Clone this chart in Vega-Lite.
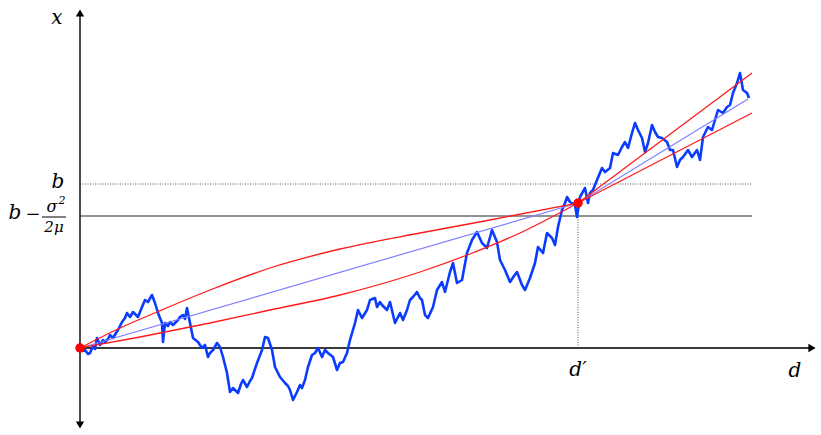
{
  "$schema": "https://vega.github.io/schema/vega-lite/v6.json",
  "autosize": "none",
  "width": 740,
  "height": 427,
  "padding": {"left": 80, "top": 5, "right": 1, "bottom": 3},
  "background": "white",
  "config": {"view": {"stroke": null}},
  "datasets": {
    "walk": [
      {"d":0,"v":0},{"d":3,"v":-3},{"d":5,"v":-2},{"d":8,"v":-6},{"d":10,"v":-5},{"d":13,"v":2},{"d":15,"v":-1},{"d":17,"v":10},{"d":20,"v":3},{"d":23,"v":8},{"d":25,"v":6},{"d":28,"v":9},{"d":30,"v":13},{"d":33,"v":10},{"d":36,"v":15},{"d":38,"v":18},{"d":42,"v":26},{"d":45,"v":30},{"d":47,"v":35},{"d":50,"v":31},{"d":53,"v":36},{"d":56,"v":33},{"d":58,"v":31},{"d":62,"v":41},{"d":65,"v":48},{"d":68,"v":46},{"d":72,"v":53},{"d":75,"v":45},{"d":78,"v":35},{"d":82,"v":25},{"d":83,"v":6},{"d":85,"v":25},{"d":88,"v":22},{"d":90,"v":26},{"d":93,"v":23},{"d":95,"v":25},{"d":98,"v":28},{"d":100,"v":31},{"d":103,"v":33},{"d":105,"v":29},{"d":107,"v":40},{"d":110,"v":25},{"d":113,"v":10},{"d":118,"v":6},{"d":122,"v":0},{"d":125,"v":3},{"d":128,"v":-9},{"d":130,"v":-5},{"d":133,"v":-2},{"d":137,"v":5},{"d":140,"v":1},{"d":143,"v":-9},{"d":147,"v":-25},{"d":150,"v":-44},{"d":153,"v":-40},{"d":155,"v":-42},{"d":158,"v":-45},{"d":161,"v":-36},{"d":163,"v":-32},{"d":167,"v":-39},{"d":170,"v":-33},{"d":172,"v":-30},{"d":177,"v":-15},{"d":182,"v":-2},{"d":185,"v":11},{"d":188,"v":10},{"d":192,"v":-2},{"d":195,"v":-19},{"d":200,"v":-29},{"d":205,"v":-35},{"d":208,"v":-38},{"d":210,"v":-42},{"d":213,"v":-52},{"d":217,"v":-44},{"d":220,"v":-37},{"d":222,"v":-40},{"d":225,"v":-32},{"d":228,"v":-19},{"d":232,"v":-7},{"d":235,"v":-5},{"d":238,"v":0},{"d":242,"v":-9},{"d":245,"v":-2},{"d":248,"v":-5},{"d":253,"v":-9},{"d":257,"v":-22},{"d":260,"v":-15},{"d":263,"v":-14},{"d":267,"v":-5},{"d":270,"v":8},{"d":275,"v":25},{"d":278,"v":38},{"d":282,"v":30},{"d":287,"v":38},{"d":290,"v":48},{"d":295,"v":50},{"d":297,"v":41},{"d":300,"v":46},{"d":302,"v":43},{"d":307,"v":38},{"d":310,"v":46},{"d":315,"v":25},{"d":320,"v":35},{"d":323,"v":28},{"d":327,"v":38},{"d":330,"v":48},{"d":333,"v":51},{"d":337,"v":56},{"d":340,"v":50},{"d":342,"v":48},{"d":345,"v":33},{"d":348,"v":30},{"d":353,"v":41},{"d":357,"v":58},{"d":362,"v":66},{"d":365,"v":56},{"d":370,"v":76},{"d":373,"v":85},{"d":377,"v":65},{"d":382,"v":68},{"d":387,"v":95},{"d":392,"v":108},{"d":397,"v":116},{"d":402,"v":105},{"d":407,"v":100},{"d":412,"v":118},{"d":417,"v":106},{"d":420,"v":88},{"d":425,"v":78},{"d":430,"v":66},{"d":434,"v":72},{"d":437,"v":76},{"d":442,"v":63},{"d":445,"v":58},{"d":450,"v":70},{"d":455,"v":85},{"d":458,"v":101},{"d":463,"v":95},{"d":467,"v":115},{"d":472,"v":110},{"d":475,"v":103},{"d":478,"v":121},{"d":482,"v":138},{"d":485,"v":145},{"d":487,"v":151},{"d":490,"v":146},{"d":495,"v":143},{"d":497,"v":131},{"d":500,"v":151},{"d":505,"v":160},{"d":508,"v":145},{"d":510,"v":155},{"d":513,"v":158},{"d":517,"v":168},{"d":522,"v":180},{"d":525,"v":176},{"d":530,"v":180},{"d":533,"v":195},{"d":538,"v":193},{"d":542,"v":201},{"d":545,"v":206},{"d":548,"v":200},{"d":552,"v":215},{"d":555,"v":225},{"d":558,"v":218},{"d":562,"v":210},{"d":565,"v":196},{"d":568,"v":205},{"d":572,"v":223},{"d":575,"v":216},{"d":578,"v":211},{"d":582,"v":210},{"d":587,"v":206},{"d":590,"v":198},{"d":593,"v":198},{"d":597,"v":181},{"d":600,"v":188},{"d":603,"v":191},{"d":608,"v":198},{"d":612,"v":191},{"d":617,"v":198},{"d":620,"v":188},{"d":623,"v":211},{"d":628,"v":221},{"d":632,"v":218},{"d":635,"v":228},{"d":638,"v":238},{"d":643,"v":235},{"d":647,"v":241},{"d":650,"v":243},{"d":653,"v":255},{"d":657,"v":265},{"d":660,"v":275},{"d":663,"v":258},{"d":667,"v":255},{"d":669,"v":250}
    ],
    "bline": [{"d":0,"v":0},{"d":498,"v":145},{"d":668,"v":249}],
    "redAcurve": [{"d":0,"v":0},{"d":40,"v":20},{"d":77,"v":36},{"d":130,"v":58},{"d":190,"v":80},{"d":260,"v":99},{"d":340,"v":115},{"d":410,"v":128},{"d":498,"v":145}],
    "redBcurve": [{"d":0,"v":0},{"d":60,"v":11},{"d":130,"v":25},{"d":190,"v":38},{"d":260,"v":53},{"d":340,"v":76},{"d":390,"v":94},{"d":440,"v":115},{"d":498,"v":145}],
    "redAline": [{"d":498,"v":145},{"d":672,"v":235}],
    "redBline": [{"d":498,"v":145},{"d":672,"v":275}],
    "dotted": [{"d":0,"v":164,"d2":672,"v2":164},{"d":498,"v":0,"d2":498,"v2":145}],
    "solid": [{"d":0,"v":132,"d2":672,"v2":132}],
    "vaxis": [{"d":0,"v":-78,"d2":0,"v2":336}],
    "haxis": [{"d":0,"v":0,"d2":733,"v2":0}],
    "frac": [{"d":-38,"v":131,"d2":-14,"v2":131}],
    "arrows": [{"d":0,"v":335,"s":"triangle-up"},{"d":0,"v":-77,"s":"triangle-down"},{"d":732,"v":0,"s":"triangle-right"}],
    "dots": [{"d":0,"v":0},{"d":498,"v":145}],
    "labels": [
      {"d":-23,"v":330,"t":"x","size":20},
      {"d":-22,"v":166,"t":"b","size":20},
      {"d":-65,"v":135,"t":"b","size":20},
      {"d":-47,"v":133,"t":"−","size":18},
      {"d":498,"v":-22,"t":"d′","size":20},
      {"d":715,"v":-23,"t":"d","size":20},
      {"d":-28,"v":141,"t":"σ","size":16},
      {"d":-26,"v":121,"t":"2μ","size":15},
      {"d":-18,"v":147,"t":"2","size":11}
    ]
  },
  "encoding": {
    "x": {"field": "d", "type": "quantitative", "scale": {"domain": [0, 740], "nice": false, "zero": false}, "axis": null},
    "y": {"field": "v", "type": "quantitative", "scale": {"domain": [-84, 343], "nice": false, "zero": false}, "axis": null}
  },
  "layer": [
    {"data": {"name": "dotted"}, "mark": {"type": "rule", "color": "#555555", "strokeWidth": 1, "strokeDash": [1, 1.5], "clip": false},
     "encoding": {"x2": {"field": "d2"}, "y2": {"field": "v2"}}},
    {"data": {"name": "solid"}, "mark": {"type": "rule", "color": "#6e6e6e", "strokeWidth": 1.6, "clip": false},
     "encoding": {"x2": {"field": "d2"}, "y2": {"field": "v2"}}},
    {"data": {"name": "haxis"}, "mark": {"type": "rule", "color": "#3a3a3a", "strokeWidth": 2, "clip": false},
     "encoding": {"x2": {"field": "d2"}, "y2": {"field": "v2"}}},
    {"data": {"name": "vaxis"}, "mark": {"type": "rule", "color": "#111111", "strokeWidth": 1.5, "clip": false},
     "encoding": {"x2": {"field": "d2"}, "y2": {"field": "v2"}}},
    {"data": {"name": "frac"}, "mark": {"type": "rule", "color": "#000000", "strokeWidth": 1, "clip": false},
     "encoding": {"x2": {"field": "d2"}, "y2": {"field": "v2"}}},
    {"data": {"name": "arrows"}, "mark": {"type": "point", "filled": true, "color": "#000000", "size": 70, "opacity": 1, "clip": false},
     "encoding": {"shape": {"field": "s", "type": "nominal", "scale": null}}},
    {"data": {"name": "walk"},
     "mark": {"type": "line", "color": "#0a3cff", "strokeWidth": 2.6, "strokeJoin": "round"}},
    {"data": {"name": "bline"}, "mark": {"type": "line", "color": "#7f7fff", "strokeWidth": 1.2}},
    {"data": {"name": "redAcurve"}, "mark": {"type": "line", "color": "#ff1a1a", "strokeWidth": 1.3, "interpolate": "monotone"}},
    {"data": {"name": "redBcurve"}, "mark": {"type": "line", "color": "#ff1a1a", "strokeWidth": 1.3, "interpolate": "monotone"}},
    {"data": {"name": "redAline"}, "mark": {"type": "line", "color": "#ff1a1a", "strokeWidth": 1.3}},
    {"data": {"name": "redBline"}, "mark": {"type": "line", "color": "#ff1a1a", "strokeWidth": 1.3}},
    {"data": {"name": "dots"}, "mark": {"type": "circle", "color": "#ff0000", "size": 90, "opacity": 1, "clip": false}},
    {"data": {"name": "labels"}, "mark": {"type": "text", "font": "DejaVu Serif", "fontStyle": "italic", "align": "center", "baseline": "middle", "color": "#000000", "clip": false},
     "encoding": {"text": {"field": "t"}, "size": {"field": "size", "type": "quantitative", "scale": null}}}
  ]
}
